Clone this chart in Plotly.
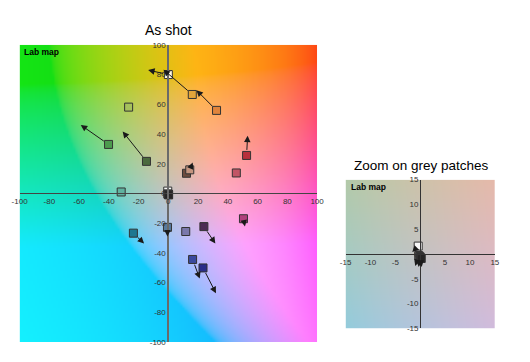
import numpy as np
import zlib, struct, base64
import plotly.graph_objects as go

# ---------------- data ----------------
# colour patches: measured (a*, b*) and target (a*, b*) — None means no arrow
patch_a = [0.0, 16.1, 32.4, -26.7, -40.2, -14.7, 12.2, 14.4, 45.7, 52.6, -31.7,
           -23.5, -0.6, 11.7, 23.9, 50.5, 16.3, 23.3]
patch_b = [80.0, 66.6, 55.9, 58.1, 33.0, 21.6, 13.6, 15.9, 13.8, 25.6, 1.0,
           -26.7, -22.8, -25.6, -22.3, -17.0, -44.4, -50.1]
target_a = [-13.6, -3.3, 18.9, -29.3, -58.9, -30.7, None, 16.4, 45.0, 53.3, -28.8,
            -16.3, -0.6, None, 31.6, 51.5, 21.1, 32.0]
target_b = [83.0, 83.3, 69.5, 61.2, 46.1, 41.7, None, 20.8, 18.1, 38.9, 0.8,
            -33.7, -28.9, None, -33.7, -22.3, -57.3, -67.1]
patch_colors = ["#fff8e2", "#e3a53a", "#e0843c", "#a6c15c", "#4c9a4e", "#4b6a3e",
                "#6e4c3e", "#c4957f", "#c25565", "#b8303c", "#5fb3a0",
                "#1e7890", "#587a9c", "#7a78aa", "#4c2c54", "#b0407c", "#3a4a9e", "#2a2e8a"]

# grey patches
grey_a = [-0.4, -0.3, -0.1, 0.0, 0.1, 0.2]
grey_b = [1.6, -0.3, -0.5, -0.7, -0.8, -0.9]
grey_target_a = [-1.6, -1.0, -0.3, 0.3, None, None]
grey_target_b = [0.4, -2.4, -2.6, -2.6, None, None]
grey_colors = ["#f8f8f8", "#c8c8c8", "#9a9a9a", "#6c6c6c", "#454545", "#252525"]

main_ticks = [-100, -80, -60, -40, -20, 0, 20, 40, 60, 80, 100]
main_ticktext = ["-100", "-80", "-60", "-40", "-20", "0", "20", "40", "60", "80", "100"]
zoom_xticks = [-15, -10, -5, 5, 10, 15]
zoom_xticktext = ["-15", "-10", "-5", "5", "10", "15"]
zoom_yticks = [-15, -10, -5, 0, 5, 10, 15]
zoom_yticktext = ["-15", "-10", "-5", "0", "5", "10", "15"]


# ---------------- background (Lab slice) ----------------
def lab_image(lim, n=128, L=77.0, white=0.08):
    a = np.linspace(-lim, lim, n)[None, :]
    b = np.linspace(lim, -lim, n)[:, None]
    fy = (L + 16) / 116 + 0 * a + 0 * b
    fx = fy + a / 500
    fz = fy - b / 200

    def finv(t):
        return np.where(t > 6 / 29, t ** 3, 3 * (6 / 29) ** 2 * (t - 4 / 29))

    X = 0.95047 * finv(fx)
    Y = finv(fy)
    Z = 1.08883 * finv(fz)
    R = 3.2406 * X - 1.5372 * Y - 0.4986 * Z
    G = -0.9689 * X + 1.8758 * Y + 0.0415 * Z
    B = 0.0557 * X - 0.2040 * Y + 1.0570 * Z
    lin = np.clip(np.stack([R, G, B], axis=-1), 0, 1)
    s = np.where(lin <= 0.0031308, 12.92 * lin, 1.055 * lin ** (1 / 2.4) - 0.055)
    s = s * (1 - white) + white
    return (np.clip(s, 0, 1) * 255).astype(np.uint8)


def png_uri(arr):
    h, w, _ = arr.shape
    raw = b"".join(b"\x00" + arr[y].tobytes() for y in range(h))

    def chunk(t, d):
        return struct.pack(">I", len(d)) + t + d + struct.pack(">I", zlib.crc32(t + d) & 0xffffffff)

    png = (b"\x89PNG\r\n\x1a\n" + chunk(b"IHDR", struct.pack(">IIBBBBB", w, h, 8, 2, 0, 0, 0))
           + chunk(b"IDAT", zlib.compress(raw, 9)) + chunk(b"IEND", b""))
    return "data:image/png;base64," + base64.b64encode(png).decode()


# the page places the figure 8px from the window's top-left corner
OFF = 8
W, H = 530 - OFF, 362 - OFF
FONT = "Liberation Sans, Arial, sans-serif"


def px(x):
    return (x - OFF) / W


def py(y):
    return 1 - (y - OFF) / H


# pixel layout (window coordinates) -> paper fractions
mx0, mx1, my0, my1 = px(11.7), px(318.0), py(346.7), py(41.7)
zx0, zx1, zy0, zy1 = px(347.3), px(501.0), py(332.7), py(180.0)

fig = go.Figure()

sq = dict(symbol="square", size=8, line=dict(color="#333333", width=1))
fig.add_trace(go.Scatter(x=patch_a, y=patch_b, mode="markers", xaxis="x", yaxis="y",
                         marker=dict(color=patch_colors, **sq), hoverinfo="skip", showlegend=False))
fig.add_trace(go.Scatter(x=grey_a, y=grey_b, mode="markers", xaxis="x", yaxis="y",
                         marker=dict(color=grey_colors, **sq), hoverinfo="skip", showlegend=False))
fig.add_trace(go.Scatter(x=grey_a, y=grey_b, mode="markers", xaxis="x2", yaxis="y2",
                         marker=dict(color=grey_colors, **sq), hoverinfo="skip", showlegend=False))

annotations = []


def add_arrows(xs, ys, txs, tys, xr, yr):
    for x, y, tx, ty in zip(xs, ys, txs, tys):
        if tx is None:
            continue
        annotations.append(dict(x=tx, y=ty, ax=x, ay=y, xref=xr, yref=yr, axref=xr, ayref=yr,
                                text="", showarrow=True, arrowhead=2, arrowsize=1.3,
                                arrowwidth=1, arrowcolor="#1a1a1a", startstandoff=4))


add_arrows(patch_a, patch_b, target_a, target_b, "x", "y")
add_arrows(grey_a, grey_b, grey_target_a, grey_target_b, "x", "y")
add_arrows(grey_a, grey_b, grey_target_a, grey_target_b, "x2", "y2")

annotations += [
    dict(text="As shot", x=px(165), y=py(26), xref="paper", yref="paper",
         xanchor="center", yanchor="middle", showarrow=False, font=dict(size=14, color="#000")),
    dict(text="Zoom on grey patches", x=px(425.8), y=py(165.7), xref="paper", yref="paper",
         xanchor="center", yanchor="middle", showarrow=False, font=dict(size=13.5, color="#000")),
    dict(text="<b>Lab map</b>", x=px(14), y=py(49), xref="paper", yref="paper",
         xanchor="left", yanchor="middle", showarrow=False, font=dict(size=8.5, color="#000")),
    dict(text="<b>Lab map</b>", x=px(351), y=py(187.7), xref="paper", yref="paper",
         xanchor="left", yanchor="middle", showarrow=False, font=dict(size=8.5, color="#000")),
]

images = [
    dict(source=png_uri(lab_image(100)), xref="x", yref="y", x=-100, y=100, sizex=200, sizey=200,
         sizing="stretch", xanchor="left", yanchor="top", layer="below"),
    dict(source=png_uri(lab_image(15)), xref="x2", yref="y2", x=-15, y=15, sizex=30, sizey=30,
         sizing="stretch", xanchor="left", yanchor="top", layer="below"),
]

axis_common = dict(showgrid=False, zeroline=False, ticks="", showline=True, fixedrange=True,
                   tickfont=dict(size=8, color="#333333", family=FONT), anchor="free")

fig.update_layout(
    width=W, height=H, margin=dict(l=0, r=0, t=0, b=0),
    paper_bgcolor="white", plot_bgcolor="rgba(0,0,0,0)",
    font=dict(family=FONT),
    xaxis=dict(domain=[mx0, mx1], range=[-100, 100], position=(my0 + my1) / 2,
               tickvals=main_ticks, ticktext=main_ticktext, linecolor="#444444", linewidth=1.3,
               **axis_common),
    yaxis=dict(domain=[my0, my1], range=[-100, 100], position=(mx0 + mx1) / 2,
               tickvals=main_ticks, ticktext=main_ticktext, linecolor="#6a6a6a", linewidth=2,
               **axis_common),
    xaxis2=dict(domain=[zx0, zx1], range=[-15, 15], position=(zy0 + zy1) / 2,
                tickvals=zoom_xticks, ticktext=zoom_xticktext, linecolor="#333333", linewidth=1.2,
                **axis_common),
    yaxis2=dict(domain=[zy0, zy1], range=[-15, 15], position=(zx0 + zx1) / 2,
                tickvals=zoom_yticks, ticktext=zoom_yticktext, linecolor="#333333", linewidth=1.2,
                **axis_common),
    annotations=annotations,
    images=images,
)

fig.write_html("out.html")
